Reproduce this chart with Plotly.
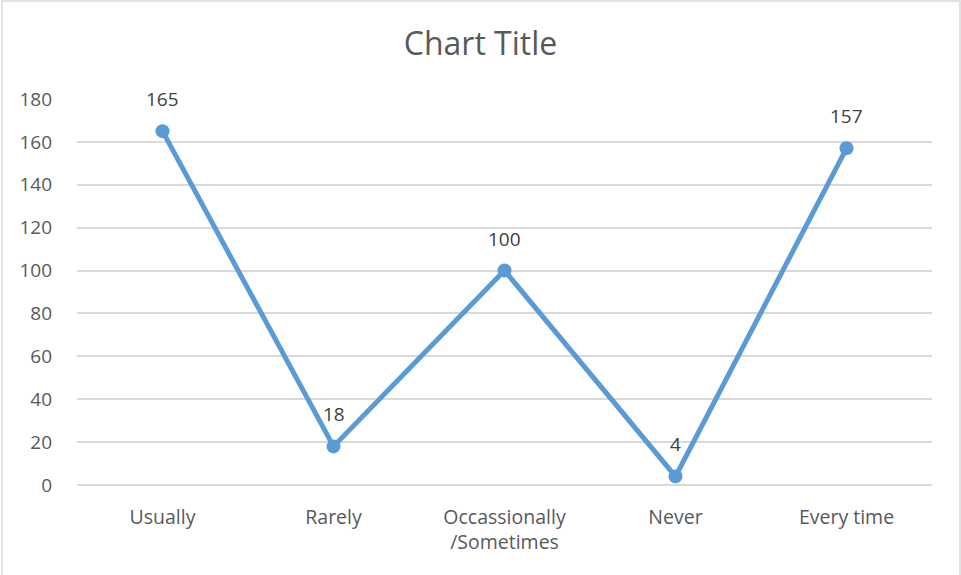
import plotly.graph_objects as go

categories = ["Usually", "Rarely", "Occassionally<br>/Sometimes", "Never", "Every time"]
values = [165, 18, 100, 4, 157]
y_ticks = [0, 20, 40, 60, 80, 100, 120, 140, 160, 180]

W, H = 961, 575
L, R, T, B = 77, 29, 99, 90
FONT = "Open Sans"

fig = go.Figure()
fig.add_trace(go.Scatter(
    x=list(range(len(categories))), y=values,
    mode="lines+markers",
    line=dict(color="#5B9BD5", width=5),
    marker=dict(color="#5B9BD5", size=14),
    cliponaxis=False,
    showlegend=False,
    hoverinfo="skip",
))

for i, v in enumerate(values):
    fig.add_annotation(x=i, y=v, text=str(v), showarrow=False, yshift=32,
                       font=dict(size=19, color="#404040", family=FONT))

fig.update_layout(
    width=W, height=H,
    margin=dict(l=L, r=R, t=T, b=B),
    paper_bgcolor="white", plot_bgcolor="white",
    title=dict(text="Chart Title", x=0.5, xanchor="center", y=1 - 44 / H, yanchor="middle",
               font=dict(size=32, color="#595959", family=FONT)),
    font=dict(family=FONT, color="#595959", size=19),
    xaxis=dict(
        tickmode="array", tickvals=list(range(len(categories))), ticktext=categories,
        range=[-0.5, len(categories) - 0.5], showgrid=False, zeroline=False,
        showline=False, ticks="", ticklabelstandoff=18,
        tickfont=dict(size=19.5, color="#595959", family=FONT),
    ),
    yaxis=dict(
        range=[0, 180], tickvals=y_ticks, showgrid=True, gridcolor="#D9D9D9", gridwidth=1.5,
        zeroline=True, zerolinecolor="#D9D9D9", zerolinewidth=1.5, showline=False, ticks="",
        ticklabelstandoff=24, tickfont=dict(size=19, color="#595959", family=FONT),
    ),
)

pw = W - L - R
ph = H - T - B
fig.add_shape(type="rect", xref="paper", yref="paper",
              x0=(2 - L) / pw, x1=(W - 1 - L) / pw,
              y0=-(B - 0.5 + 2) / ph,
              y1=1 + (T - 1) / ph,
              line=dict(color="#D9D9D9", width=1.5), fillcolor="rgba(0,0,0,0)", layer="below")

fig.write_html("out.html", config={"displayModeBar": False},
               post_script="document.body.style.margin='0';document.body.style.overflow='hidden';")
